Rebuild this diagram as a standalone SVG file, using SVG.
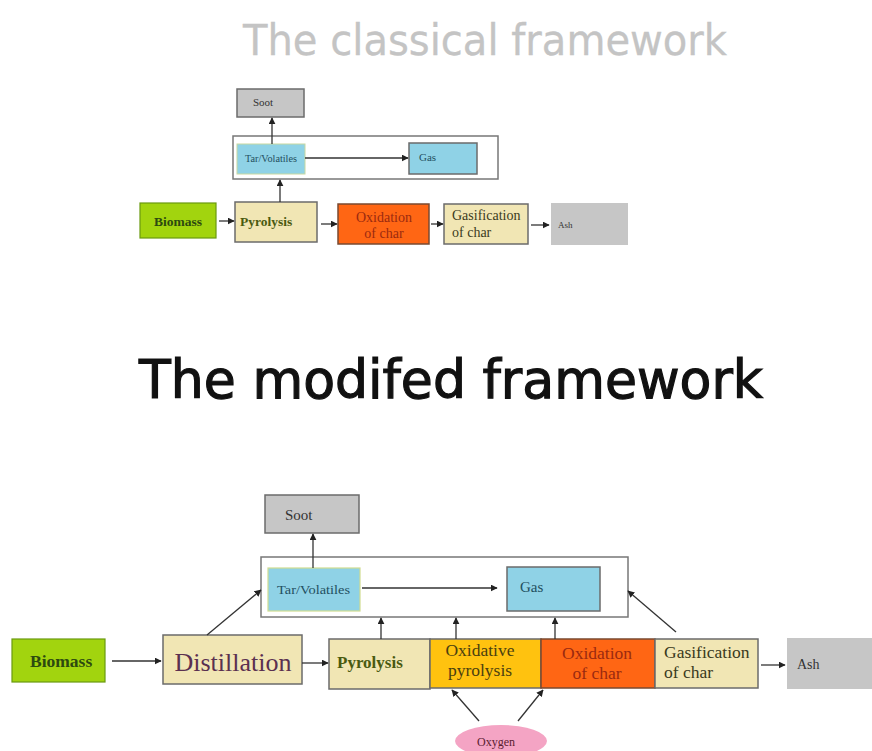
<svg xmlns="http://www.w3.org/2000/svg" width="872" height="751" viewBox="0 0 872 751">
  <defs>
    <marker id="arr" viewBox="0 0 10 10" refX="9" refY="5" markerWidth="7" markerHeight="7" orient="auto" markerUnits="userSpaceOnUse">
      <path d="M0,0 L10,5 L0,10 z" fill="#222"/>
    </marker>
    <style>
      .title { font-family: "DejaVu Sans", "Noto Sans", sans-serif; }
      .lbl { font-family: "Liberation Serif", "DejaVu Serif", serif; }
      .b { font-weight: bold; }
      .box { stroke: #6b6b6b; stroke-width: 1.5; }
      .green { fill: #a2d40e; }
      .beige { fill: #f1e6b4; }
      .blue { fill: #8fd2e6; }
      .orange { fill: #ff6614; }
      .gold { fill: #ffc20f; }
      .gray { fill: #c6c6c6; }
      .frame { fill: none; stroke: #777; stroke-width: 1.5; }
      .conn line { stroke: #333; stroke-width: 1.3; fill: none; marker-end: url(#arr); }
    </style>
  </defs>

  <rect width="872" height="751" fill="#ffffff"/>

  <!-- headings -->
  <text class="title" x="243" y="55" font-size="42" fill="#c4c4c4" stroke="#c4c4c4" stroke-width="0.3" textLength="484" lengthAdjust="spacingAndGlyphs">The classical framework</text>
  <text class="title" x="139" y="398" font-size="53" fill="#111" stroke="#111" stroke-width="1.2" textLength="624" lengthAdjust="spacingAndGlyphs">The modifed framework</text>

  <!-- ===== classical framework ===== -->
  <g id="c-frame"><rect class="frame" x="233" y="136" width="265" height="43"/></g>
  <g id="c-soot">
    <rect class="box gray" x="237" y="89" width="67" height="28"/>
    <text class="lbl" x="253" y="106" font-size="11" fill="#333">Soot</text>
  </g>
  <g id="c-tar">
    <rect class="blue" x="237" y="144" width="68" height="30" stroke="#c8d8a0" stroke-width="1"/>
    <text class="lbl" x="245" y="162" font-size="10" fill="#1f4f5f" textLength="52" lengthAdjust="spacingAndGlyphs">Tar/Volatiles</text>
  </g>
  <g id="c-gas">
    <rect class="box blue" x="409" y="143" width="68" height="31"/>
    <text class="lbl" x="419" y="161" font-size="11" fill="#1f4f5f">Gas</text>
  </g>
  <g id="c-biomass">
    <rect class="green" x="140" y="203" width="76" height="35" stroke="#6a9a10" stroke-width="1.2"/>
    <text class="lbl b" x="154" y="226" font-size="13.5" fill="#2d4a10">Biomass</text>
  </g>
  <g id="c-pyrolysis">
    <rect class="box beige" x="235" y="202" width="82" height="40"/>
    <text class="lbl b" x="240" y="226" font-size="13.5" fill="#4a5a10">Pyrolysis</text>
  </g>
  <g id="c-oxidation">
    <rect class="orange" x="338" y="204" width="91" height="40" stroke="#7a4a30" stroke-width="1.5"/>
    <text class="lbl" x="384" y="222" font-size="14" fill="#9a2a10" text-anchor="middle">Oxidation</text>
    <text class="lbl" x="384" y="238" font-size="14" fill="#9a2a10" text-anchor="middle">of char</text>
  </g>
  <g id="c-gasification">
    <rect class="box beige" x="444" y="204" width="84" height="40"/>
    <text class="lbl" x="452" y="220" font-size="14" fill="#3a3a20">Gasification</text>
    <text class="lbl" x="452" y="237" font-size="14" fill="#3a3a20">of char</text>
  </g>
  <g id="c-ash">
    <rect class="gray" x="551" y="203" width="77" height="42"/>
    <text class="lbl" x="558" y="228" font-size="9" fill="#333">Ash</text>
  </g>

  <g id="c-connectors" class="conn">
    <line x1="272" y1="144" x2="272" y2="118"/>
    <line x1="305" y1="158" x2="408" y2="158"/>
    <line x1="280" y1="202" x2="280" y2="180"/>
    <line x1="219" y1="221" x2="234" y2="221"/>
    <line x1="321" y1="224" x2="337" y2="224"/>
    <line x1="431" y1="224" x2="443" y2="224"/>
    <line x1="531" y1="225" x2="549" y2="225"/>
  </g>

  <!-- ===== modified framework ===== -->
  <g id="m-frame"><rect class="frame" x="261" y="557" width="367" height="60"/></g>
  <g id="m-soot">
    <rect class="box gray" x="265" y="495" width="94" height="38"/>
    <text class="lbl" x="285" y="520" font-size="15" fill="#333">Soot</text>
  </g>
  <g id="m-tar">
    <rect class="blue" x="268" y="568" width="92" height="43" stroke="#d0dc90" stroke-width="1.2"/>
    <text class="lbl" x="277" y="594" font-size="13.5" fill="#1f4f5f" textLength="73" lengthAdjust="spacingAndGlyphs">Tar/Volatiles</text>
  </g>
  <g id="m-gas">
    <rect class="box blue" x="507" y="567" width="93" height="44"/>
    <text class="lbl" x="520" y="592" font-size="15" fill="#1f4f5f">Gas</text>
  </g>
  <g id="m-biomass">
    <rect class="green" x="12" y="639" width="93" height="43" stroke="#6a9a10" stroke-width="1.2"/>
    <text class="lbl b" x="30" y="667" font-size="17.5" fill="#2d4a10">Biomass</text>
  </g>
  <g id="m-distillation">
    <rect class="box beige" x="163" y="635" width="139" height="49"/>
    <text class="lbl" x="233" y="671" font-size="26" fill="#5a3050" text-anchor="middle">Distillation</text>
  </g>
  <g id="m-pyrolysis">
    <rect class="box beige" x="329" y="639" width="101" height="50"/>
    <text class="lbl b" x="337" y="668" font-size="17" fill="#4a5a10">Pyrolysis</text>
  </g>
  <g id="m-oxpyrolysis">
    <rect class="box gold" x="430" y="639" width="111" height="49"/>
    <text class="lbl" x="480" y="656" font-size="17.5" fill="#4a4010" text-anchor="middle">Oxidative</text>
    <text class="lbl" x="480" y="676" font-size="17.5" fill="#4a4010" text-anchor="middle">pyrolysis</text>
  </g>
  <g id="m-oxidation">
    <rect class="orange" x="541" y="639" width="114" height="49" stroke="#7a4a30" stroke-width="1.5"/>
    <text class="lbl" x="597" y="659" font-size="17.5" fill="#9a2a10" text-anchor="middle">Oxidation</text>
    <text class="lbl" x="597" y="679" font-size="17.5" fill="#9a2a10" text-anchor="middle">of char</text>
  </g>
  <g id="m-gasification">
    <rect class="box beige" x="655" y="639" width="103" height="49"/>
    <text class="lbl" x="664" y="658" font-size="17.5" fill="#3a3a20">Gasification</text>
    <text class="lbl" x="664" y="678" font-size="17.5" fill="#3a3a20">of char</text>
  </g>
  <g id="m-ash">
    <rect class="gray" x="787" y="638" width="85" height="51"/>
    <text class="lbl" x="797" y="669" font-size="14" fill="#333">Ash</text>
  </g>
  <g id="m-oxygen">
    <ellipse cx="501" cy="741" rx="46" ry="16" fill="#f4a4c4"/>
    <text class="lbl" x="496" y="746" font-size="12" fill="#5a2030" text-anchor="middle">Oxygen</text>
  </g>

  <g id="m-connectors" class="conn">
    <line x1="313" y1="568" x2="313" y2="534"/>
    <line x1="362" y1="588" x2="497" y2="588"/>
    <line x1="112" y1="661" x2="161" y2="661"/>
    <line x1="207" y1="635" x2="261" y2="590"/>
    <line x1="302" y1="663" x2="328" y2="663"/>
    <line x1="381" y1="639" x2="381" y2="618"/>
    <line x1="456" y1="639" x2="456" y2="618"/>
    <line x1="555" y1="639" x2="555" y2="618"/>
    <line x1="676" y1="632" x2="628" y2="591"/>
    <line x1="761" y1="665" x2="785" y2="665"/>
    <line x1="479" y1="721" x2="452" y2="690"/>
    <line x1="518" y1="721" x2="543" y2="690"/>
  </g>
</svg>
